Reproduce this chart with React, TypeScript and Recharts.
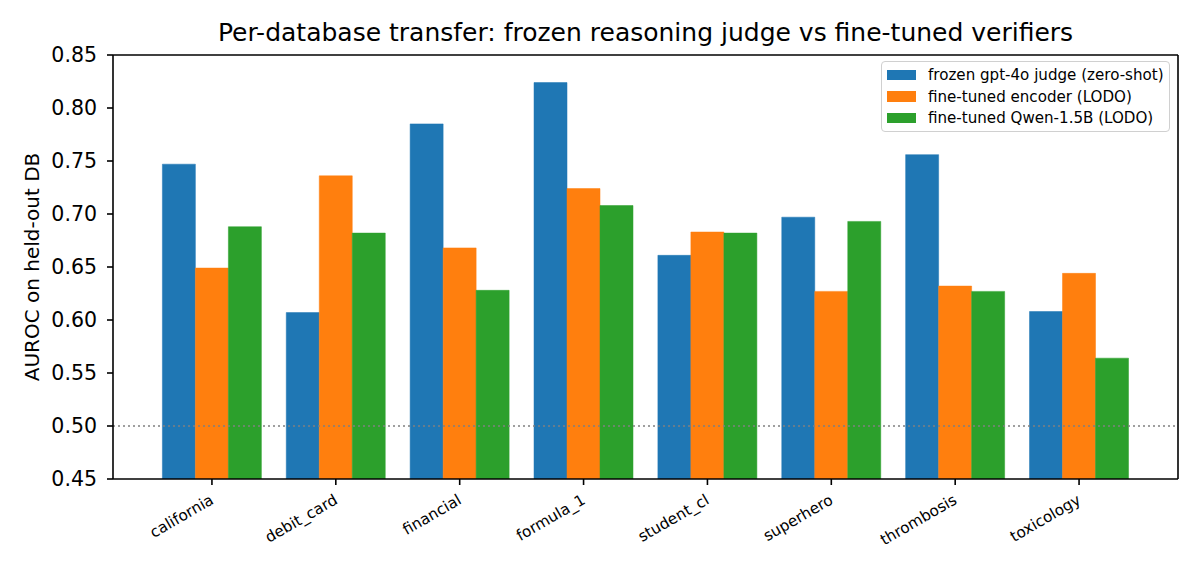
import { Bar, BarChart, Legend, ReferenceLine, XAxis, YAxis } from 'recharts';

// Per-database AUROC: frozen judge vs two LODO fine-tuned verifiers.

const databases = [
  'california',
  'debit_card',
  'financial',
  'formula_1',
  'student_cl',
  'superhero',
  'thrombosis',
  'toxicology',
];
const frozenJudge = [0.747, 0.607, 0.785, 0.824, 0.661, 0.697, 0.756, 0.608];
const encoderLodo = [0.649, 0.736, 0.668, 0.724, 0.683, 0.627, 0.632, 0.644];
const qwenLodo = [0.688, 0.682, 0.628, 0.708, 0.682, 0.693, 0.627, 0.564];
const yTicks = [0.45, 0.5, 0.55, 0.6, 0.65, 0.7, 0.75, 0.8, 0.85];

const series = [
  { key: 'judge', name: 'frozen gpt-4o judge (zero-shot)', color: '#1f77b4' },
  { key: 'encoder', name: 'fine-tuned encoder (LODO)', color: '#ff7f0e' },
  { key: 'qwen', name: 'fine-tuned Qwen-1.5B (LODO)', color: '#2ca02c' },
];

const rows = databases.map((db, i) => ({
  db,
  judge: frozenJudge[i],
  encoder: encoderLodo[i],
  qwen: qwenLodo[i],
}));

const FONT = '"DejaVu Sans", sans-serif';
const SPINE = { stroke: '#000', strokeWidth: 1.6 };

function SlantTick({ x, y, payload }: any) {
  return (
    <g transform={`translate(${x - 3},${y})`}>
      <text
        x={0}
        y={0}
        dy={11.5}
        textAnchor="end"
        transform="rotate(-30)"
        fontSize={15.3}
        fill="#000"
        fontFamily={FONT}
      >
        {payload.value}
      </text>
    </g>
  );
}

function LegendBox() {
  return (
    <div
      style={{
        boxSizing: 'border-box',
        width: 289,
        height: 71,
        border: '1px solid #d0d0d0',
        borderRadius: 4,
        background: 'rgba(255,255,255,0.8)',
        padding: '2px 5px 0 5px',
        fontFamily: FONT,
        fontSize: 15.1,
        color: '#000',
      }}
    >
      {series.map((s) => (
        <div key={s.key} style={{ display: 'flex', alignItems: 'center', height: 21.7 }}>
          <span style={{ width: 29, height: 10.5, background: s.color, marginRight: 12, flex: 'none' }} />
          <span style={{ whiteSpace: 'nowrap' }}>{s.name}</span>
        </div>
      ))}
    </div>
  );
}

export default function App() {
  return (
    <div style={{ position: 'absolute', left: 0, top: 0, width: 1200, height: 570, background: '#fff' }}>
      <div
        style={{
          position: 'absolute',
          left: 113,
          width: 1065,
          top: 18,
          textAlign: 'center',
          fontFamily: FONT,
          fontSize: 25,
          color: '#000',
          lineHeight: '30px',
          whiteSpace: 'nowrap',
        }}
      >
        Per-database transfer: frozen reasoning judge vs fine-tuned verifiers
      </div>
      <BarChart
        width={1200}
        height={570}
        data={rows}
        margin={{ top: 55, right: 21, bottom: 31, left: 0 }}
        barCategoryGap="10%"
        barGap={0}
        style={{ fontFamily: FONT }}
      >
        <XAxis
          dataKey="db"
          interval={0}
          padding={{ left: 37, right: 37 }}
          height={60}
          tick={<SlantTick />}
          tickSize={6}
          tickMargin={8}
          axisLine={SPINE}
          tickLine={SPINE}
        />
        <YAxis
          type="number"
          domain={[0.45, 0.85]}
          ticks={yTicks}
          allowDataOverflow
          width={113}
          tickSize={6}
          tickMargin={10}
          tickFormatter={(v: number) => v.toFixed(2)}
          tick={{ fontSize: 20.5, fill: '#000', fontFamily: FONT }}
          axisLine={SPINE}
          tickLine={SPINE}
          label={{
            value: 'AUROC on held-out DB',
            angle: -90,
            position: 'insideLeft',
            offset: 32,
            style: { textAnchor: 'middle', fontSize: 20, fill: '#000', fontFamily: FONT },
          }}
        />
        <YAxis
          yAxisId="right"
          orientation="right"
          type="number"
          domain={[0, 1]}
          width={1}
          tick={false}
          tickLine={false}
          axisLine={SPINE}
        />
        <Legend
          layout="horizontal"
          verticalAlign="middle"
          align="center"
          content={() => <LegendBox />}
          wrapperStyle={{ position: 'absolute', top: 61, left: 881, width: 289 }}
        />
        {series.map((s) => (
          <Bar
            key={s.key}
            dataKey={s.key}
            name={s.name}
            fill={s.color}
            stroke={s.color}
            strokeWidth={0.5}
            isAnimationActive={false}
          />
        ))}
        <ReferenceLine y={0.5} stroke="#808080" strokeWidth={1.3} strokeDasharray="2 3" />
        <ReferenceLine y={0.85} stroke="#000" strokeWidth={1.6} />
      </BarChart>
    </div>
  );
}
